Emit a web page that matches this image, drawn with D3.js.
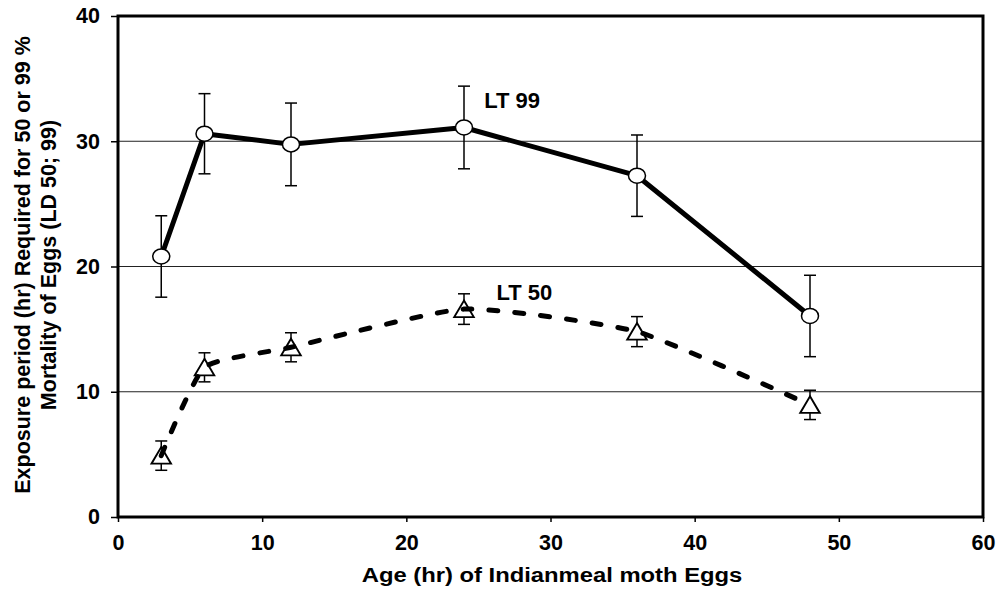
<!DOCTYPE html>
<html>
<head>
<meta charset="utf-8">
<script src="https://cdn.jsdelivr.net/npm/d3@7/dist/d3.min.js"></script>
<style>
  html, body { margin: 0; padding: 0; background: #fff; }
  svg { display: block; }
  text { font-family: "Liberation Sans", Arial, sans-serif; font-weight: bold; fill: #000; }
</style>
</head>
<body>
<svg id="chart" width="1000" height="592"></svg>
<script>
// ---- data ----
const ages = [3, 6, 12, 24, 36, 48];
const lt99 = [20.8, 30.6, 29.75, 31.1, 27.25, 16.05];
const lt99Err = [3.25, 3.2, 3.3, 3.3, 3.25, 3.25];
const lt50 = [4.9, 11.95, 13.55, 16.6, 14.8, 8.95];
const lt50Err = [1.17, 1.16, 1.16, 1.22, 1.2, 1.17];
const xTicks = [0, 10, 20, 30, 40, 50, 60];
const yTicks = [0, 10, 20, 30, 40];
const gridValues = [10, 20, 30];
const xTitle = "Age (hr) of Indianmeal moth Eggs";
const yTitleLines = ["Exposure period (hr) Required for 50 or 99 %", "Mortality of Eggs (LD 50; 99)"];
const seriesLabels = [{text: "LT 99", x: 25.4, y: 32.65}, {text: "LT 50", x: 26.25, y: 17.35}];

// ---- layout ----
const svg = d3.select("#chart");
const pLeft = 118, pRight = 983, pTop = 16, pBottom = 517;
const x = d3.scaleLinear().domain([0, 60]).range([pLeft, pRight]);
const y = d3.scaleLinear().domain([0, 40]).range([pBottom, pTop]);

// gridlines
svg.append("g").selectAll("line").data(gridValues).join("line")
  .attr("x1", pLeft).attr("x2", pRight)
  .attr("y1", d => y(d)).attr("y2", d => y(d))
  .attr("stroke", "#222").attr("stroke-width", 1);

// axes
const yAxis = svg.append("g").attr("transform", `translate(${pLeft},0)`)
  .call(d3.axisLeft(y).tickValues(yTicks).tickSize(7).tickFormat(d3.format("d")));
yAxis.select(".domain").remove();
yAxis.selectAll(".tick line").attr("stroke", "#000").attr("stroke-width", 1.5);
yAxis.selectAll(".tick text").attr("x", -18).attr("font-size", 21.5)
  .style("font-family", "'Liberation Sans', Arial, sans-serif").style("font-weight", "bold");

const xAxis = svg.append("g").attr("transform", `translate(0,${pBottom})`)
  .call(d3.axisBottom(x).tickValues(xTicks).tickSize(5).tickFormat(d3.format("d")));
xAxis.select(".domain").remove();
xAxis.selectAll(".tick line").attr("stroke", "#000").attr("stroke-width", 1.5);
xAxis.selectAll(".tick text").attr("y", 18).attr("dy", "0.71em").attr("font-size", 21.5)
  .style("font-family", "'Liberation Sans', Arial, sans-serif").style("font-weight", "bold");

// frame
svg.append("rect").attr("x", pLeft).attr("y", pTop)
  .attr("width", pRight - pLeft).attr("height", pBottom - pTop)
  .attr("fill", "none").attr("stroke", "#000").attr("stroke-width", 3);

// titles
svg.append("text").attr("transform", "translate(552,582) scale(1.19,1)")
  .attr("text-anchor", "middle").attr("font-size", 20).text(xTitle);
const yT = svg.append("text").attr("transform", "translate(0,265) rotate(-90)")
  .attr("text-anchor", "middle").attr("font-size", 21.5);
yT.append("tspan").attr("x", 0).attr("y", 30).text(yTitleLines[0]);
yT.append("tspan").attr("x", 0).attr("y", 56).text(yTitleLines[1]);

// error bars
function errorBars(vals, errs) {
  const g = svg.append("g").attr("stroke", "#000").attr("stroke-width", 1.5).attr("fill", "none");
  ages.forEach((a, i) => {
    const cx = x(a), y1 = y(vals[i] + errs[i]), y2 = y(vals[i] - errs[i]);
    g.append("line").attr("x1", cx).attr("x2", cx).attr("y1", y1).attr("y2", y2);
    g.append("line").attr("x1", cx - 6).attr("x2", cx + 6).attr("y1", y1).attr("y2", y1);
    g.append("line").attr("x1", cx - 6).attr("x2", cx + 6).attr("y1", y2).attr("y2", y2);
  });
}
errorBars(lt99, lt99Err);
errorBars(lt50, lt50Err);

// LT99 solid line
svg.append("path")
  .datum(ages.map((a, i) => [a, lt99[i]]))
  .attr("d", d3.line().x(d => x(d[0])).y(d => y(d[1])))
  .attr("fill", "none").attr("stroke", "#000").attr("stroke-width", 5).attr("stroke-linejoin", "round");

// LT99 markers
svg.append("g").selectAll("ellipse").data(ages.map((a, i) => [a, lt99[i]])).join("ellipse")
  .attr("cx", d => x(d[0])).attr("cy", d => y(d[1]))
  .attr("rx", 8.5).attr("ry", 7.5)
  .attr("fill", "#fff").attr("stroke", "#000").attr("stroke-width", 1.5);

// LT50 triangle markers
const tri = d3.symbol().type(d3.symbolTriangle).size(150);
svg.append("g").selectAll("path").data(ages.map((a, i) => [a, lt50[i]])).join("path")
  .attr("d", tri)
  .attr("transform", d => `translate(${x(d[0])},${y(d[1]) + 2.5}) scale(1.05,1.03)`)
  .attr("fill", "#fff").attr("stroke", "#000").attr("stroke-width", 1.8);

// LT50 dashed smoothed line
svg.append("path")
  .datum(ages.map((a, i) => [a, lt50[i]]))
  .attr("d", d3.line().x(d => x(d[0])).y(d => y(d[1])).curve(d3.curveCardinal.tension(0.5)))
  .attr("fill", "none").attr("stroke", "#000").attr("stroke-width", 5)
  .attr("stroke-dasharray", "9,17").attr("stroke-linecap", "round");

// series labels
svg.append("g").selectAll("text").data(seriesLabels).join("text")
  .attr("x", d => x(d.x)).attr("y", d => y(d.y))
  .attr("font-size", 22).text(d => d.text);
</script>
</body>
</html>
